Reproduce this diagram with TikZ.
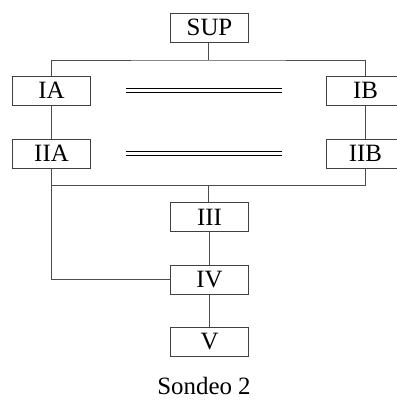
\documentclass[tikz,border=0pt]{standalone}
\usepackage{fontspec}
\setmainfont{Liberation Serif}
\begin{document}
\begin{tikzpicture}[x=1bp, y=-1bp,
    box/.style={draw=black!75, line width=1bp, minimum width=77bp, minimum height=29bp,
        inner sep=0pt, font=\fontsize{25}{28}\selectfont},
    link/.style={draw=black!70, line width=1bp},
    eq/.style={double, double distance=3.2bp, line width=1.1bp}]
    \useasboundingbox (0, 0) rectangle (397, 400);
    \node[box] (SUP) at (209.5, 27.5) {SUP};
    \node[box] (IA) at (51.5, 90.5) {IA};
    \node[box] (IB) at (365.5, 90.5) {IB};
    \node[box] (IIA) at (51.5, 153.5) {IIA};
    \node[box] (IIB) at (365.5, 153.5) {IIB};
    \node[box] (III) at (209.5, 217) {III};
    \node[box] (IV) at (209.5, 279.5) {IV};
    \node[box] (V) at (209.5, 341.5) {V};
    \node[inner sep=0pt, anchor=base, font=\fontsize{25}{28}\selectfont] (title) at (204, 394) {Sondeo 2};
    \coordinate (top) at (208.5, 60);
    \coordinate (bot) at (208.5, 185.5);
    % connectors
    \draw[link] (SUP.south -| top) -- (top);
    \draw[link] (IA.north) |- (top) -| (IB.north);
    \draw[link] (IA) -- (IIA);
    \draw[link] (IB) -- (IIB);
    \draw[link] (IIA.south) |- (bot) -| (IIB.south);
    \draw[link] (bot) -- (III.north -| bot);
    \draw[link] (IIA.south) |- (IV.west);
    \draw[link] (III) -- (IV);
    \draw[link] (IV) -- (V);
    % equal signs
    \draw[eq] (126, 90.5) -- (282, 90.5);
    \draw[eq] (126, 153.5) -- (282, 153.5);
\end{tikzpicture}
\end{document}
